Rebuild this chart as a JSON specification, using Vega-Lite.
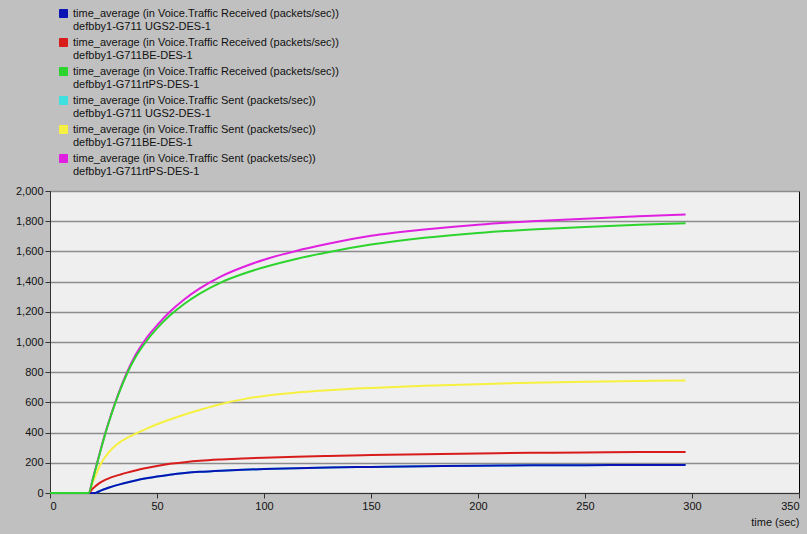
{
  "$schema": "https://vega.github.io/schema/vega-lite/v6.json",
  "width": 749,
  "height": 302,
  "autosize": {"type": "none"},
  "padding": {"left": 50, "top": 191, "right": 8, "bottom": 41},
  "background": "#c0c0c0",
  "config": {
    "font": "Liberation Sans",
    "view": {"fill": "#efefef", "stroke": "#000000", "strokeWidth": 1}
  },
  "data": {
    "values": [
      {"t": 0, "a": 0, "b": 0, "c": 0, "d": 0, "e": 0, "f": 0},
      {"t": 17, "a": 0, "b": 0, "c": 0, "d": 0, "e": 0, "f": 0},
      {"t": 18, "a": 0, "b": 0, "c": 0, "d": 0, "e": 0, "f": 0},
      {"t": 20, "a": 0, "b": 30, "c": 90, "d": 0, "e": 70, "f": 95},
      {"t": 21, "a": 0, "b": 42, "c": 142, "d": 0, "e": 105, "f": 147},
      {"t": 22, "a": 5, "b": 54, "c": 195, "d": 5, "e": 140, "f": 200},
      {"t": 24, "a": 17, "b": 73, "c": 300, "d": 17, "e": 200, "f": 305},
      {"t": 26, "a": 28, "b": 88, "c": 400, "d": 28, "e": 243, "f": 405},
      {"t": 28, "a": 38, "b": 100, "c": 490, "d": 38, "e": 278, "f": 495},
      {"t": 30, "a": 47, "b": 110, "c": 575, "d": 47, "e": 306, "f": 580},
      {"t": 33, "a": 59, "b": 123, "c": 690, "d": 59, "e": 340, "f": 697},
      {"t": 36, "a": 70, "b": 135, "c": 790, "d": 70, "e": 365, "f": 800},
      {"t": 40, "a": 83, "b": 149, "c": 900, "d": 83, "e": 393, "f": 915},
      {"t": 45, "a": 97, "b": 165, "c": 1005, "d": 97, "e": 425, "f": 1025},
      {"t": 50, "a": 109, "b": 179, "c": 1090, "d": 109, "e": 455, "f": 1110},
      {"t": 56, "a": 121, "b": 193, "c": 1175, "d": 121, "e": 487, "f": 1200},
      {"t": 63, "a": 132, "b": 204, "c": 1255, "d": 132, "e": 520, "f": 1285},
      {"t": 70, "a": 140, "b": 213, "c": 1320, "d": 140, "e": 550, "f": 1355},
      {"t": 80, "a": 148, "b": 222, "c": 1395, "d": 148, "e": 590, "f": 1435},
      {"t": 90, "a": 154, "b": 229, "c": 1450, "d": 154, "e": 620, "f": 1495},
      {"t": 100, "a": 158.5, "b": 234, "c": 1495, "d": 158.5, "e": 643, "f": 1545},
      {"t": 115, "a": 164, "b": 240, "c": 1550, "d": 164, "e": 665, "f": 1603},
      {"t": 130, "a": 168.5, "b": 245, "c": 1595, "d": 168.5, "e": 681, "f": 1650},
      {"t": 150, "a": 173, "b": 251, "c": 1645, "d": 173, "e": 696, "f": 1703},
      {"t": 175, "a": 177.5, "b": 257, "c": 1690, "d": 177.5, "e": 710, "f": 1745},
      {"t": 200, "a": 180.5, "b": 262, "c": 1722, "d": 180.5, "e": 721, "f": 1777},
      {"t": 225, "a": 183, "b": 266, "c": 1745, "d": 183, "e": 730, "f": 1800},
      {"t": 250, "a": 184.5, "b": 269, "c": 1762, "d": 184.5, "e": 737, "f": 1817},
      {"t": 275, "a": 185.5, "b": 271, "c": 1776, "d": 185.5, "e": 742, "f": 1832},
      {"t": 297, "a": 186, "b": 272, "c": 1786, "d": 186, "e": 745, "f": 1844}
    ]
  },
  "transform": [
    {"fold": ["d", "e", "f", "a", "b", "c"], "as": ["series", "v"]}
  ],
  "mark": {"type": "line", "strokeWidth": 2, "interpolate": "monotone"},
  "encoding": {
    "x": {
      "field": "t",
      "type": "quantitative",
      "scale": {"domain": [0, 350], "nice": false},
      "axis": {
        "values": [0, 50, 100, 150, 200, 250, 300, 350],
        "title": "time (sec)",
        "titleAnchor": "end",
        "titleAlign": "right",
        "titleFontWeight": "normal",
        "titleFontSize": 11,
        "titleColor": "#111111",
        "titlePadding": 5,
        "labelFontSize": 11,
        "labelColor": "#111111",
        "labelPadding": 2,
        "tickSize": 5,
        "tickColor": "#333333",
        "domainColor": "#333333",
        "grid": false
      }
    },
    "y": {
      "field": "v",
      "type": "quantitative",
      "scale": {"domain": [0, 2000], "nice": false},
      "axis": {
        "values": [0, 200, 400, 600, 800, 1000, 1200, 1400, 1600, 1800, 2000],
        "format": ",d",
        "title": null,
        "labelFontSize": 11,
        "labelColor": "#111111",
        "labelPadding": 2,
        "tickSize": 5,
        "tickColor": "#333333",
        "domainColor": "#333333",
        "grid": true,
        "gridColor": "#8c8c8c",
        "gridWidth": 1.5
      }
    },
    "color": {
      "field": "series",
      "type": "nominal",
      "scale": {
        "domain": ["a", "b", "c", "d", "e", "f"],
        "range": ["#0a14b4", "#d81c1c", "#2ed42e", "#40e0e0", "#f6f040", "#e020e0"]
      },
      "legend": {
        "orient": "none",
        "legendX": 8,
        "legendY": -183,
        "title": null,
        "symbolType": "square",
        "symbolSize": 64,
        "labelFontSize": 11,
        "labelColor": "#111111",
        "labelOffset": 4,
        "labelLimit": 500,
        "rowPadding": 4,
        "labelExpr": "datum.label == 'a' ? ['time_average (in Voice.Traffic Received (packets/sec))', '\u2002defbby1-G711 UGS2-DES-1'] : datum.label == 'b' ? ['time_average (in Voice.Traffic Received (packets/sec))', '\u2002defbby1-G711BE-DES-1'] : datum.label == 'c' ? ['time_average (in Voice.Traffic Received (packets/sec))', '\u2002defbby1-G711rtPS-DES-1'] : datum.label == 'd' ? ['time_average (in Voice.Traffic Sent (packets/sec))', '\u2002defbby1-G711 UGS2-DES-1'] : datum.label == 'e' ? ['time_average (in Voice.Traffic Sent (packets/sec))', '\u2002defbby1-G711BE-DES-1'] : ['time_average (in Voice.Traffic Sent (packets/sec))', '\u2002defbby1-G711rtPS-DES-1']",
        "encode": {
          "symbols": {
            "update": {
              "fill": {"scale": "color", "field": "value"},
              "stroke": {"value": "#333333"},
              "strokeWidth": {"value": 1}
            }
          }
        }
      }
    }
  }
}
